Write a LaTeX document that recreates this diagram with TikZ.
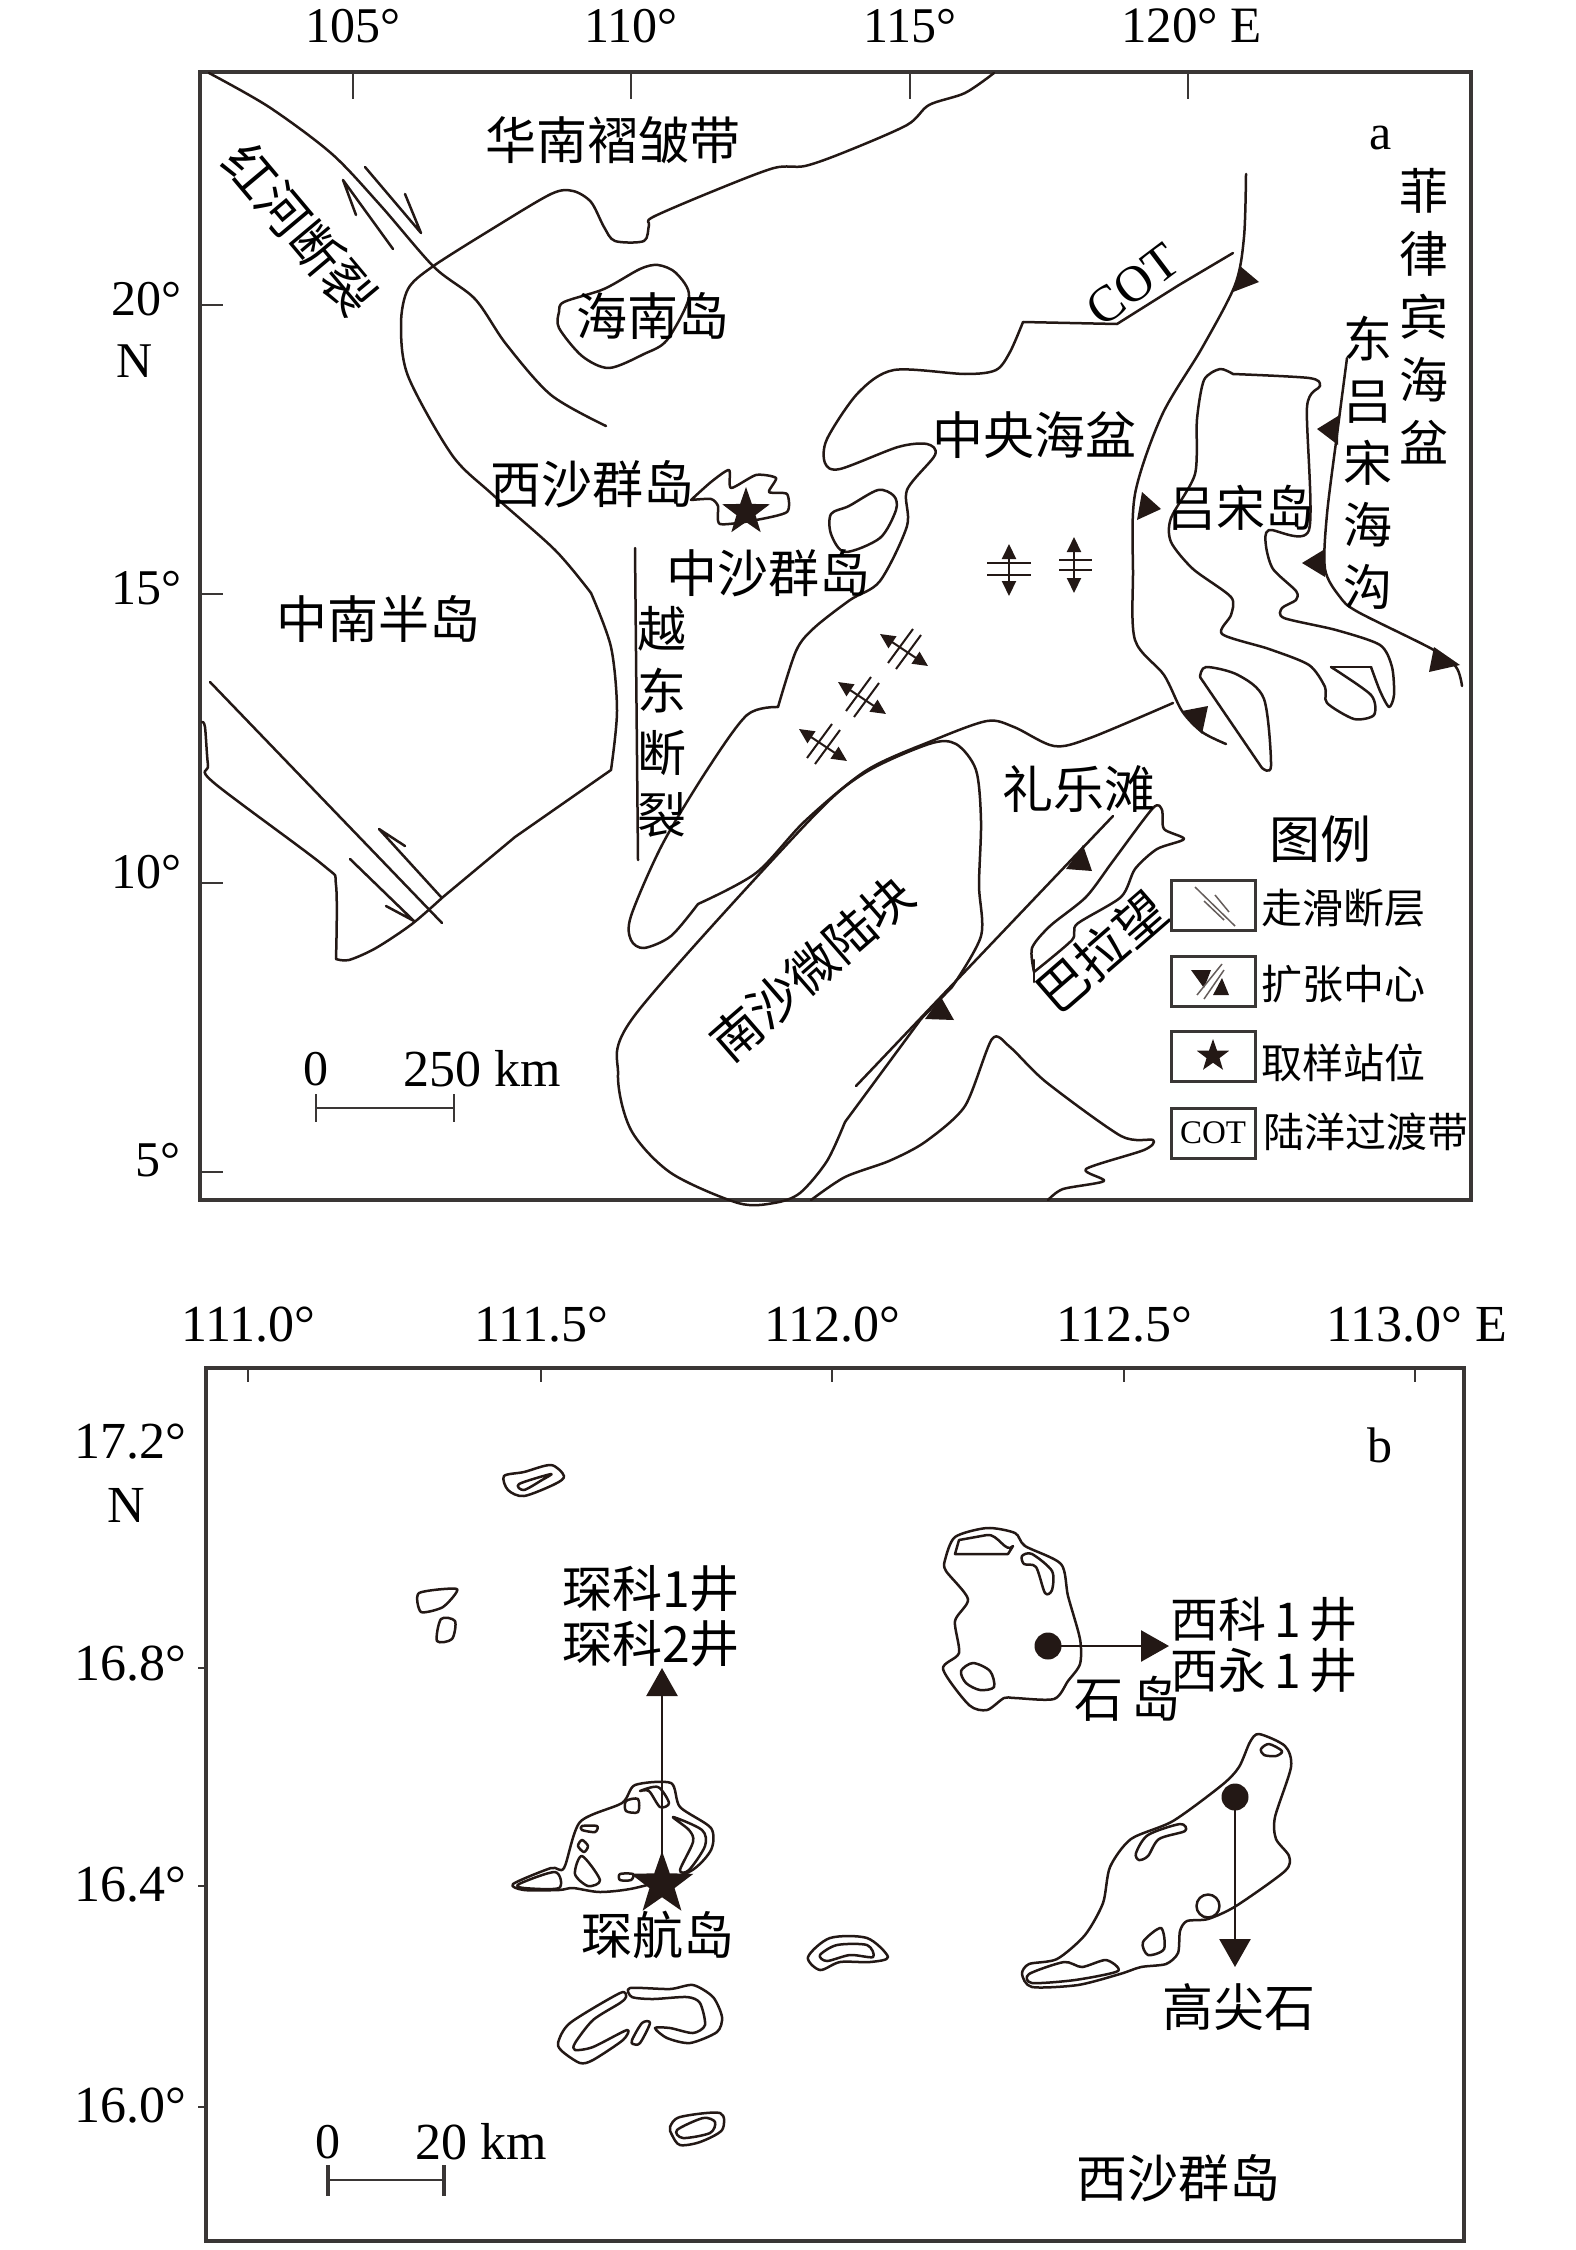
\documentclass[tikz,border=0pt]{standalone}
\usepackage{fontspec}
\setmainfont{Liberation Serif}
\newfontfamily\cjk{Noto Sans CJK SC}
\usetikzlibrary{arrows.meta,shapes.geometric}
\definecolor{ink}{HTML}{231815}
\definecolor{framecol}{HTML}{3A3635}
\tikzset{
    coast/.style={draw=ink,line width=2.5pt,line join=round,line cap=round},
    thin line/.style={draw=ink,line width=2pt},
    frame line/.style={draw=framecol,line width=3.2pt},
    tick line/.style={draw=framecol,line width=2.8pt},
    zh/.style={inner sep=0pt,text=black,font=\cjk\fontsize{#1}{#1}\selectfont},
    zh/.default=48,
    zhstack/.style={inner sep=0pt,align=center,text=black,font=\cjk\fontsize{49}{#1}\selectfont},
    num/.style={inner sep=0pt,text=black,font=\fontsize{#1}{#1}\selectfont},
    num/.default=50,
    legbox/.style={draw=framecol,line width=3pt,minimum width=84pt,minimum height=50pt,inner sep=0pt},
    well/.style={-{Triangle[length=28pt,width=31pt]},draw=ink,line width=2.6pt},
    spreadarrow/.style={{Triangle[length=15pt,width=14pt]}-{Triangle[length=15pt,width=14pt]},draw=ink,line width=2pt},
    sitestar/.style={star,star points=5,star point ratio=2.5,fill=ink,inner sep=0pt,minimum size=#1},
    welldot/.style={circle,fill=ink,inner sep=0pt,minimum size=27pt}
}
\begin{document}
\begin{tikzpicture}[x=1pt,y=-1pt]
            \useasboundingbox (0,0) rectangle (1575,2250);

            % panel a, frame and graticule
            \draw[frame line] (200,72) rectangle (1471,1200);
            \foreach \x/\t in {353/105°,631/110°,910/115°} {
                \draw[tick line] (\x,72) -- (\x,99);
                \node[num] at (\x,26) {\t};
            }
            \draw[tick line] (1188,72) -- (1188,99);
            \node[num=51,anchor=west] (lonE) at (1121,26) {120° E};
            \foreach \y in {305,594,883,1172} \draw[tick line] (200,\y) -- (223,\y);
            \node[num] (latA) at (146,299) {20°};
            \node[num] (latN) at (135,361) {N};
            \node[num] at (146,588) {15°};
            \node[num] at (146,872) {10°};
            \node[num] at (158,1160) {5°};

            % coast lines
            \draw[coast] plot[smooth] coordinates {(209,73) (269,107) (332,154) (381,206) (434,267) (475,299) (506,344) (551,395) (606,426)};
            \draw[coast] plot[smooth] coordinates {(591,593) (555,550) (492,494) (452,455) (408,376) (401,324) (408,289) (432,267) (492,229) (551,194) (573,191) (591,202) (604,227) (615,241) (644,241) (649,225) (653,217) (716,190) (774,168) (805,166) (845,152) (907,125) (929,105) (965,93) (994,73)};
            \draw[coast] plot[smooth] coordinates {(591,593) (611,647) (617,711) (611,770)} -- (515,837) -- (443,897);
            \draw[coast] plot[smooth] coordinates {(443,897) (412,924) (376,948) (349,960) (336,959)};
            \draw[coast] plot[smooth] coordinates {(336,959) (336,885) (323,865) (213,782) (208,765) (205,727) (202,722)};
            \draw[coast] (210,682) -- (442,923);
            \draw[coast] (350,859) -- (414,921) -- (386,906);
            \draw[coast] (441,897) -- (379,829) -- (405,846);
            \draw[coast] (365,167) -- (421,233) -- (405,194);
            \draw[coast] (393,249) -- (343,180) -- (356,215);
            \draw[coast] plot[smooth cycle] coordinates {(564,302) (604,289) (640,269) (658,265) (676,273) (689,297) (667,340) (644,354) (609,368) (582,356) (559,328) (559,312)};
            \draw[coast] plot[smooth,tension=.4] coordinates {(691,500) (711,482) (729,470) (731,488) (756,475) (776,478) (769,492) (787,494) (787,512) (756,520) (720,524) (718,506) (711,499) (691,500)};
            \draw[coast] plot[smooth cycle] coordinates {(831,514) (849,506) (878,490) (894,496) (896,510) (880,538) (845,552) (831,534)};
            \draw[coast] (1233,253) -- (1179,285) -- (1117,324) -- (1023,322);
            \draw[coast] plot[smooth] coordinates {(1023,322) (1010,352) (996,370) (965,374) (894,370) (858,393) (827,439) (825,463) (840,469) (898,447) (927,444) (935,455) (907,490) (907,526) (880,581) (850,600) (814,628) (796,651) (778,707)};
            \draw[coast] plot[smooth] coordinates {(778,707) (747,715) (707,770) (662,845) (631,916) (631,940) (644,948) (671,936) (698,904)};
            \draw[coast] plot[smooth] coordinates {(698,904) (756,873) (805,821) (867,770) (934,740) (987,721) (1014,727) (1054,746) (1090,738) (1173,703)};
            \draw[coast] plot[smooth] coordinates {(845,1122) (827,1161) (800,1193) (774,1203) (738,1203) (671,1173) (631,1130) (618,1074) (635,1015) (805,825) (863,774) (929,744) (956,744) (976,770) (981,821) (979,885) (981,936) (952,987)};
            \draw[coast] (952,987) -- (921,1019) -- (845,1122);
            \draw[coast] (856,1086) -- (1113,816);
            \draw[coast] plot[smooth,tension=.45] coordinates {(1034,972) (1032,948) (1050,926) (1086,897) (1113,861) (1153,808) (1162,810) (1164,829) (1184,839) (1157,849) (1135,869) (1121,897) (1077,924) (1072,940) (1034,972)};
            \draw[coast] (1034,982) -- (1034,960);
            \draw[coast] plot[smooth,tension=.45] coordinates {(811,1200) (845,1177) (889,1161) (925,1142) (965,1106) (992,1039) (1010,1047) (1046,1082) (1121,1136) (1153,1140) (1144,1150) (1086,1169) (1104,1181) (1063,1189) (1048,1200)};
            \draw[coast] plot[smooth] coordinates {(1246,174) (1244,237) (1235,285) (1202,348) (1162,415) (1135,494) (1133,573) (1135,640) (1164,675) (1182,711) (1202,732) (1226,744)};
            \draw[coast] plot[smooth,tension=.45] coordinates {(1233,374) (1220,369) (1204,380) (1197,419) (1195,474) (1171,518) (1171,542) (1193,569) (1231,597) (1231,615) (1222,634) (1269,649) (1309,665) (1325,687) (1327,703) (1354,719) (1374,715) (1371,695) (1331,667)};
            \draw[coast] (1331,667) -- (1371,667);
            \draw[coast] plot[smooth,tension=.45] coordinates {(1371,667) (1380,691) (1389,707) (1394,695) (1392,667) (1380,645) (1336,630) (1284,618) (1282,608) (1296,600) (1296,591) (1273,569) (1266,546) (1269,530) (1309,530) (1307,407) (1320,386) (1309,378) (1233,374)};
            \draw[coast] plot[smooth,tension=.5] coordinates {(1200,677) (1206,667) (1238,675) (1264,699) (1271,766) (1262,768)};
            \draw[coast] (1262,768) -- (1200,677);
            \draw[coast] plot[smooth] coordinates {(1347,358) (1338,427) (1327,514) (1325,569) (1340,597) (1358,612) (1432,649) (1456,667) (1462,686)};
            \draw[coast] (635,548) -- (638,860);

            % thrust teeth
            \foreach \ax/\ay/\bx/\by/\cx/\cy in {1240/266/1259/282/1233/292,1142/492/1161/509/1137/520,1208/706/1182/711/1202/734,1338/416/1317/429/1338/445,1325/549/1302/563/1325/577,1434/647/1429/672/1460/665,1083/845/1066/869/1092/871,941/997/925/1019/954/1020}
                \fill[ink] (\ax,\ay) -- (\bx,\by) -- (\cx,\cy) -- cycle;

            % spreading centres
            \foreach \cx/\cy in {823/744,862/697,904/649} {
                \draw[thin line] (\cx-16,\cy+14) -- (\cx+9,\cy-20);
                \draw[thin line] (\cx-8,\cy+20) -- (\cx+17,\cy-14);
                \draw[spreadarrow] (\cx-24,\cy-15) -- (\cx+24,\cy+17);
            }
            \draw[thin line] (987,563) -- (1031,563);
            \draw[thin line] (987,575) -- (1031,575);
            \draw[spreadarrow] (1009,544) -- (1009,596);
            \draw[thin line] (1059,560) -- (1092,560);
            \draw[thin line] (1059,570) -- (1092,570);
            \draw[spreadarrow] (1074,537) -- (1074,593);

            \node[sitestar=50pt] (siteA) at (746,512) {};

            % panel a, labels
            \node[zh=51] (huanan) at (613,140) {华南褶皱带};
            \node[zh=51,rotate=-50] (honghe) at (300,229) {红河断裂};
            \node[zh=51] (hainan) at (653,316) {海南岛};
            \node[zh=51] (xishaA) at (592,484) {西沙群岛};
            \node[zh=51] (zhongsha) at (768,573) {中沙群岛};
            \node[zh=51] (indochina) at (378,619) {中南半岛};
            \node[zh=51] (basin) at (1034,435) {中央海盆};
            \node[zh=49] (luzon) at (1241,508) {吕宋岛};
            \node[zh=51] (liyue) at (1079,789) {礼乐滩};
            \node[zh=50,rotate=41] (nansha) at (812,968) {南沙微陆块};
            \node[zh=51,rotate=41] (palawan) at (1101,952) {巴拉望};
            \node[zh=51] (legendhead) at (1320,839) {图例};
            \node[zhstack=62] (yuedong) at (662,722) {越\\东\\断\\裂};
            \node[zhstack=63] (philippine) at (1424,316) {菲\\律\\宾\\海\\盆};
            \node[zhstack=62] (eastluzon) at (1368,463) {东\\吕\\宋\\海\\沟};
            \node[num=51,rotate=37] (cotA) at (1133,285) {COT};
            \node[num] (panelA) at (1381,138) {a};

            \node[num] (scaleAzero) at (316,1069) {0};
            \node[num=52] (scaleAkm) at (482,1069) {250 km};
            \draw[tick line] (316,1108) -- (454,1108);
            \draw[tick line] (316,1094) -- (316,1122);
            \draw[tick line] (454,1094) -- (454,1122);

            % legend
            \node[legbox] (legfault) at (1213,905) {};
            \node[legbox] (legspread) at (1213,981) {};
            \node[legbox] (legstar) at (1213,1056) {};
            \node[legbox,font=\fontsize{33}{33}\selectfont] (legcot) at (1213,1133) {COT};
            \node[zh=41,anchor=west] (legfaultlabel) at (1261,908) {走滑断层};
            \node[zh=41,anchor=west] (legspreadlabel) at (1261,984) {扩张中心};
            \node[zh=41,anchor=west] (legstarlabel) at (1261,1063) {取样站位};
            \node[zh=41,anchor=west] (legcotlabel) at (1263,1132) {陆洋过渡带};
            \draw[draw=ink!70,line width=1.5pt] (1195,887) -- (1235,926);
            \draw[draw=ink!70,line width=1.5pt] (1204,901) -- (1224,920);
            \draw[draw=ink!70,line width=1.5pt] (1215,895) -- (1229,912);
            \fill[ink] (1191,970) -- (1211,970) -- (1204,988) -- cycle;
            \fill[ink] (1213,995) -- (1229,995) -- (1222,978) -- cycle;
            \draw[draw=ink!70,line width=1.5pt] (1197,995) -- (1222,964);
            \draw[draw=ink!70,line width=1.5pt] (1204,999) -- (1224,970);
            \node[sitestar=34pt] (legstarmark) at (legstar) {};

            % panel b, frame and graticule
            \draw[frame line] (206,1368) rectangle (1464,2241);
            \foreach \x/\t in {248/111.0°,541/111.5°,832/112.0°,1124/112.5°} {
                \draw[tick line] (\x,1368) -- (\x,1382);
                \node[num=52] at (\x,1325) {\t};
            }
            \draw[tick line] (1415,1368) -- (1415,1382);
            \node[num=52,anchor=west] (lonEb) at (1326,1325) {113.0° E};
            \foreach \y in {1668,1886,2107} \draw[tick line] (198,\y) -- (206,\y);
            \node[num=52] at (130,1442) {17.2°};
            \node[num=52] (latNb) at (126,1505) {N};
            \node[num=52] at (130,1664) {16.8°};
            \node[num=52] at (130,1885) {16.4°};
            \node[num=52] at (130,2106) {16.0°};
            \node[num] (panelB) at (1380,1445) {b};

            % islands
            \draw[coast] plot[smooth cycle] coordinates {(504,1476) (524,1472) (551,1465) (564,1476) (555,1484) (524,1496) (508,1490)};
            \draw[coast] plot[smooth cycle] coordinates {(519,1484) (551,1474) (542,1480) (524,1490)};
            \draw[coast] plot[smooth cycle,tension=.4] coordinates {(419,1593) (457,1589) (443,1607) (421,1612)};
            \draw[coast] plot[smooth cycle] coordinates {(441,1619) (455,1621) (452,1639) (437,1641)};
            \draw[coast] plot[smooth cycle,tension=.45] coordinates {(513,1884) (551,1868) (564,1868) (580,1822) (622,1803) (635,1785) (671,1783) (680,1807) (711,1828) (711,1850) (689,1872) (635,1888) (600,1892) (573,1888) (559,1890) (524,1890)};
            \draw[coast] plot[smooth cycle] coordinates {(519,1884) (555,1872) (559,1888) (524,1888)};
            \draw[coast] plot[smooth cycle] coordinates {(582,1826) (597,1826) (595,1832) (582,1830)};
            \draw[coast] plot[smooth cycle] coordinates {(582,1840) (588,1846) (584,1852) (578,1846)};
            \draw[coast] plot[smooth cycle] coordinates {(582,1856) (600,1880) (588,1886) (575,1874)};
            \draw[coast] plot[smooth cycle] coordinates {(620,1874) (633,1874) (631,1880) (620,1880)};
            \draw[coast] plot[smooth cycle] coordinates {(626,1801) (638,1799) (638,1812) (626,1811)};
            \draw[coast] plot[smooth cycle] coordinates {(640,1791) (658,1787) (669,1803) (660,1807) (649,1791)};
            \draw[coast] plot[smooth cycle] coordinates {(673,1817) (702,1830) (705,1846) (689,1870) (680,1870) (693,1842) (689,1830)};
            \draw[coast] plot[smooth cycle,tension=.45] coordinates {(945,1560) (955,1537) (987,1528) (1015,1533) (1025,1546) (1061,1564) (1068,1596) (1080,1639) (1080,1664) (1068,1681) (1054,1699) (1015,1698) (1004,1698) (987,1710) (969,1705) (943,1669) (959,1653) (955,1621) (968,1599) (946,1571)};
            \draw[coast] (955,1554) -- (959,1540) -- (987,1535) to[out=10,in=-130] (1013,1546) -- (1008,1554) -- cycle;
            \draw[coast] plot[smooth cycle] coordinates {(1022,1556) (1032,1554) (1052,1571) (1052,1590) (1045,1593) (1036,1567) (1024,1564)};
            \draw[coast] plot[smooth cycle] coordinates {(961,1671) (973,1663) (990,1671) (994,1687) (980,1690) (966,1683)};
            \draw[coast] plot[smooth cycle,tension=.45] coordinates {(1250,1742) (1259,1734) (1285,1746) (1291,1767) (1275,1817) (1276,1839) (1289,1856) (1285,1871) (1236,1906) (1208,1919) (1187,1921) (1180,1931) (1178,1953) (1166,1964) (1141,1967) (1120,1974) (1078,1985) (1032,1987) (1022,1974) (1029,1964) (1057,1959) (1085,1935) (1103,1903) (1110,1867) (1131,1839) (1173,1821) (1222,1785) (1239,1767)};
            \draw[coast] plot[smooth cycle] coordinates {(1261,1749) (1269,1744) (1282,1751) (1276,1756) (1264,1755)};
            \draw[coast] plot[smooth cycle] coordinates {(1136,1853) (1148,1835) (1180,1824) (1185,1831) (1159,1839) (1148,1856) (1139,1860)};
            \draw[coast] (1208,1906) circle (11.5);
            \draw[coast] plot[smooth cycle] coordinates {(1143,1942) (1161,1928) (1164,1949) (1148,1955)};
            \draw[coast] plot[smooth cycle,tension=.45] coordinates {(1029,1974) (1064,1962) (1082,1967) (1106,1960) (1118,1971) (1075,1980) (1032,1983)};
            \draw[coast] plot[smooth cycle] coordinates {(808,1957) (830,1938) (867,1938) (888,1957) (870,1962) (840,1962) (820,1970)};
            \draw[coast] plot[smooth cycle] coordinates {(820,1955) (837,1945) (867,1945) (873,1957) (850,1955) (827,1961)};
            \draw[coast] plot[smooth cycle,tension=.45] coordinates {(558,2043) (570,2023) (620,1993) (626,1997) (620,2003) (593,2020) (575,2043) (575,2050) (593,2047) (627,2030) (623,2040) (593,2060) (580,2063) (563,2052)};
            \draw[coast] plot[smooth cycle] coordinates {(632,2040) (642,2023) (650,2023) (640,2043) (633,2044)};
            \draw[coast] plot[smooth cycle,tension=.45] coordinates {(630,1988) (670,1989) (693,1985) (713,1997) (722,2017) (717,2032) (690,2043) (667,2038) (655,2028) (670,2028) (693,2033) (705,2025) (700,2003) (687,1997) (653,1999) (632,1997)};
            \draw[coast] plot[smooth cycle] coordinates {(670,2127) (680,2117) (720,2113) (722,2130) (700,2142) (680,2145) (672,2135)};
            \draw[coast] plot[smooth cycle] coordinates {(677,2130) (703,2118) (715,2122) (710,2133) (683,2138)};

            % wells
            \node[sitestar=66pt] (chenhang) at (662,1884) {};
            \node[welldot] (shidao) at (1048,1646) {};
            \node[welldot] (gaojian) at (1235,1797) {};
            \coordinate (chenhangtip) at (662,1668);
            \coordinate (shidaotip) at (1169,1646);
            \coordinate (gaojiantip) at (1235,1967);
            \draw[well] (chenhang.center) -- (chenhangtip);
            \draw[well] (shidao.center) -- (shidaotip);
            \draw[well] (gaojian.center) -- (gaojiantip);

            % panel b, labels
            \node[zh=50] (chenke1) at (651,1589) {琛科1井};
            \node[zh=50] (chenke2) at (651,1644) {琛科2井};
            \node[zh=51] (chenhanglabel) at (658,1935) {琛航岛};
            \node[zh=48] (xike) at (1264,1619) {西科\hspace{8pt}1\hspace{8pt}井};
            \node[zh=48] (xiyong) at (1264,1671) {西永\hspace{8pt}1\hspace{8pt}井};
            \node[zh=49] (shilabel) at (1127,1699) {石\hspace{8pt}岛};
            \node[zh=51] (gaojianlabel) at (1239,2007) {高尖石};
            \node[zh=51] (xishaB) at (1178,2178) {西沙群岛};

            \node[num] (scaleBzero) at (328,2142) {0};
            \node[num=52] (scaleBkm) at (481,2142) {20 km};
            \draw[tick line] (328,2180) -- (444,2180);
            \draw[tick line,line width=4pt] (328,2165) -- (328,2196);
            \draw[tick line,line width=4pt] (444,2165) -- (444,2196);
\end{tikzpicture}
\end{document}
